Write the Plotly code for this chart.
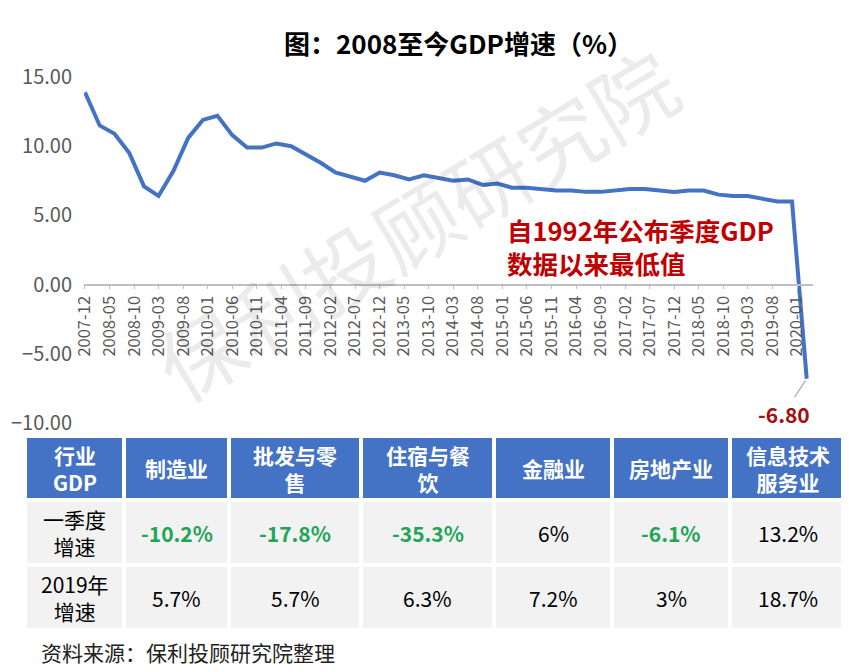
import plotly.graph_objects as go
import pandas as pd

W, H = 849, 672

# ---------------- data ----------------
quarters = pd.date_range("2007-12-01", "2020-03-01", freq="3MS")
gdp_growth = [13.9,
              11.5, 10.9, 9.5, 7.1,
              6.4, 8.2, 10.6, 11.9,
              12.2, 10.8, 9.9, 9.9,
              10.2, 10.0, 9.4, 8.8,
              8.1, 7.8, 7.5, 8.1,
              7.9, 7.6, 7.9, 7.7,
              7.5, 7.6, 7.2, 7.3,
              7.0, 7.0, 6.9, 6.8,
              6.8, 6.7, 6.7, 6.8,
              6.9, 6.9, 6.8, 6.7,
              6.8, 6.8, 6.5, 6.4,
              6.4, 6.2, 6.0, 6.0,
              -6.8]
y_ticks = [-10, -5, 0, 5, 10, 15]

table_corner = "行业<br>GDP"
industries = ["制造业", "批发与零<br>售", "住宿与餐<br>饮", "金融业", "房地产业", "信息技术<br>服务业"]
row_labels = ["一季度<br>增速", "2019年<br>增速"]
q1_growth = [-10.2, -17.8, -35.3, 6, -6.1, 13.2]
y2019_growth = [5.7, 5.7, 6.3, 7.2, 3, 18.7]

title_text = "图：2008至今GDP增速（%）"
note_text = "自1992年公布季度GDP<br>数据以来最低值"
source_text = "资料来源：保利投顾研究院整理"
watermark = "保利投顾研究院"

# ---------------- styling ----------------
FONT = "Noto Sans CJK SC"
BLUE = "#4472C4"
GREEN = "#21A456"
RED = "#C00000"
GRAY = "#595959"
OFF = 8  # page offset of the plot div


def py(px):
    return 1 - (px - OFF) / H


def pxx(px):
    return (px - OFF) / W


fig = go.Figure()

fig.add_trace(go.Scatter(
    x=quarters, y=gdp_growth, mode="lines",
    line=dict(color=BLUE, width=4), hoverinfo="skip", showlegend=False,
))

# y-axis geometry
y_top_px, y_bot_px = 77, 423
yr = [-10, 15]
zero_frac = py(y_bot_px) + (0 - yr[0]) / (yr[1] - yr[0]) * (py(y_top_px) - py(y_bot_px))

fig.update_layout(
    width=W, height=H,
    margin=dict(l=0, r=0, t=0, b=0),
    paper_bgcolor="white", plot_bgcolor="rgba(0,0,0,0)",
    font=dict(family=FONT, color="#000"),
    showlegend=False,
    xaxis=dict(
        type="date", range=["2007-11-25", "2020-04-09"],
        domain=[pxx(84), pxx(813)], anchor="free", position=zero_frac,
        tick0="2007-12-01", dtick="M5", tickformat="%Y-%m", tickangle=-90,
        ticks="outside", ticklen=4, tickcolor="#BFBFBF",
        showline=True, linecolor="#BFBFBF", linewidth=1.5,
        showgrid=False, zeroline=False,
        tickfont=dict(family=FONT, size=16.5, color=GRAY),
        fixedrange=True, automargin=False,
    ),
    yaxis=dict(
        range=yr, domain=[py(y_bot_px), py(y_top_px)],
        tickvals=y_ticks, tickformat=".2f",
        showgrid=False, zeroline=False, showline=False, ticks="",
        ticklabelstandoff=11,
        tickfont=dict(family=FONT, size=20, color=GRAY),
        fixedrange=True, automargin=False,
    ),
)

# ---------------- table (grid via go.Table, text via annotations) ----------------
col_w = [99, 105, 132, 133, 118, 118, 116]
tbl_left, tbl_right = 25, 846
tbl_top = 436
head_h, row_h = 64, 65
tbl_total = head_h + 2 * row_h

fig.add_trace(go.Table(
    domain=dict(x=[pxx(tbl_left), pxx(tbl_right)], y=[py(tbl_top + tbl_total + 4), py(tbl_top)]),
    columnwidth=col_w,
    header=dict(values=[""] * 7, fill_color=BLUE, line=dict(color="white", width=4), height=head_h),
    cells=dict(values=[[""] * 2 for _ in range(7)], fill_color="#F2F2F2",
               line=dict(color="white", width=4), height=row_h),
))

scale = (tbl_right - tbl_left) / sum(col_w)
col_edges = [tbl_left]
for w in col_w:
    col_edges.append(col_edges[-1] + w * scale)
col_centers = [(a + b) / 2 for a, b in zip(col_edges[:-1], col_edges[1:])]
row_centers = [tbl_top + head_h / 2, tbl_top + head_h + row_h / 2, tbl_top + head_h + 1.5 * row_h]

ann = []
TFS = 21
header_all = [table_corner] + industries
for cx, t in zip(col_centers, header_all):
    ann.append(dict(text="<b>" + t + "</b>", xref="paper", yref="paper",
                    x=pxx(cx), y=py(row_centers[0]), xanchor="center", yanchor="middle",
                    align="center", showarrow=False,
                    font=dict(family=FONT, size=TFS, color="white")))

for ri, (label, vals) in enumerate([(row_labels[0], q1_growth), (row_labels[1], y2019_growth)]):
    yc = py(row_centers[ri + 1])
    ann.append(dict(text=label, xref="paper", yref="paper", x=pxx(col_centers[0]), y=yc,
                    xanchor="center", yanchor="middle", align="center", showarrow=False,
                    font=dict(family=FONT, size=TFS, color="#000")))
    for cx, v in zip(col_centers[1:], vals):
        neg = v < 0
        txt = f"{v:g}%"
        ann.append(dict(text=("<b>" + txt + "</b>") if neg else txt, xref="paper", yref="paper",
                        x=pxx(cx), y=yc, xanchor="center", yanchor="middle", showarrow=False,
                        font=dict(family=FONT, size=TFS, color=GREEN if neg else "#000")))

# ---------------- other annotations ----------------
ann.append(dict(text="<b>" + title_text + "</b>", xref="paper", yref="paper",
                x=pxx(458), y=py(42), xanchor="center", yanchor="middle", showarrow=False,
                font=dict(family=FONT, size=26, color="#000")))
ann.append(dict(text="<b>" + note_text + "</b>", xref="paper", yref="paper",
                x=pxx(505), y=py(246), xanchor="left", yanchor="middle", align="left", showarrow=False,
                font=dict(family=FONT, size=25.5, color=RED)))
ann.append(dict(text=f"<b>{gdp_growth[-1]:.2f}</b>", xref="x", yref="y",
                x=quarters[-1], y=gdp_growth[-1], ax=-23, ay=35,
                showarrow=True, arrowhead=0, arrowwidth=1.2, arrowcolor="#A6A6A6", standoff=2,
                font=dict(family=FONT, size=21, color="#A50F0F")))
ann.append(dict(text=source_text, xref="paper", yref="paper",
                x=pxx(39), y=py(652), xanchor="left", yanchor="middle", showarrow=False,
                font=dict(family=FONT, size=21, color="#222")))
ann.append(dict(text=watermark, xref="paper", yref="paper",
                x=pxx(415), y=py(222), xanchor="center", yanchor="middle", showarrow=False,
                textangle=-31, font=dict(family=FONT, size=84, color="rgba(0,0,0,0.08)")))
fig.update_layout(annotations=ann)

fig.write_html("out.html")
